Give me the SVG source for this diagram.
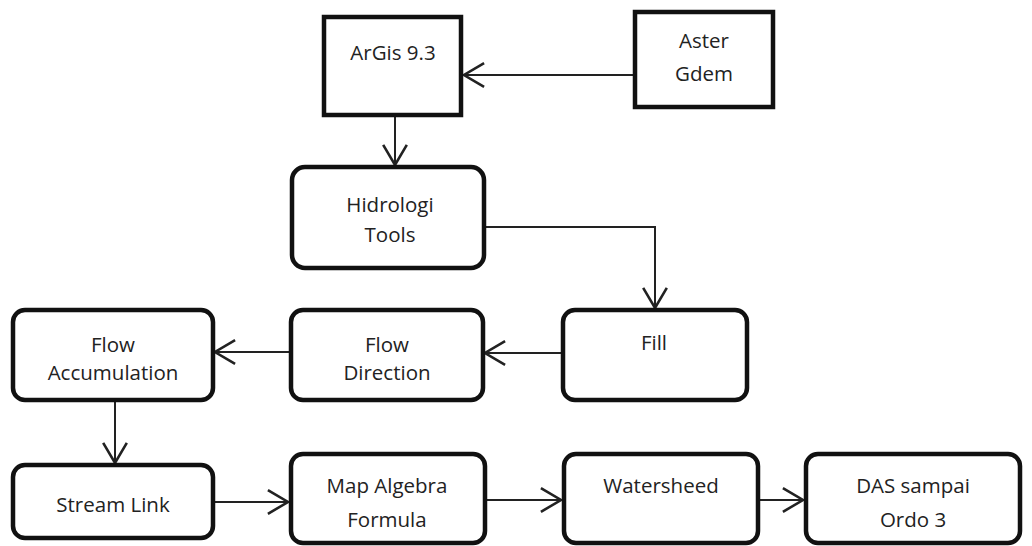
<svg xmlns="http://www.w3.org/2000/svg" width="1032" height="546" viewBox="0 0 1032 546">
<style>
.box{fill:none;stroke:#111;stroke-width:4.5}
.t{font-family:"Open Sans","Liberation Sans",sans-serif;font-size:20.5px;fill:#222;text-anchor:middle}
.c{fill:none;stroke:#222;stroke-width:2}
</style>
<defs>
<marker id="ah" markerUnits="userSpaceOnUse" markerWidth="26" markerHeight="26" refX="18" refY="11" orient="auto" viewBox="0 0 22 22">
<path d="M1,1 L18,11 L1,21" fill="none" stroke="#222" stroke-width="2.2"/>
</marker>
</defs>
<rect width="1032" height="546" fill="#fff"/>
<g id="connectors">
<path class="c" d="M634,75 H464" marker-end="url(#ah)"/>
<path class="c" d="M395,117 V165" marker-end="url(#ah)"/>
<path class="c" d="M485,227 H655 V308" marker-end="url(#ah)"/>
<path class="c" d="M562,353 H485" marker-end="url(#ah)"/>
<path class="c" d="M289,352 H215" marker-end="url(#ah)"/>
<path class="c" d="M115,401 V463" marker-end="url(#ah)"/>
<path class="c" d="M214,502 H288" marker-end="url(#ah)"/>
<path class="c" d="M486,500 H561" marker-end="url(#ah)"/>
<path class="c" d="M759,500 H803" marker-end="url(#ah)"/>
</g>
<g id="argis"><rect class="box" x="324" y="17" width="137" height="98"/><text class="t" x="393" y="60">ArGis 9.3</text></g>
<g id="aster"><rect class="box" x="635" y="12" width="138" height="95"/><text class="t" x="704" y="48">Aster</text><text class="t" x="704" y="81">Gdem</text></g>
<g id="hidrologi"><rect class="box" x="292" y="167" width="192" height="101" rx="13"/><text class="t" x="390" y="212">Hidrologi</text><text class="t" x="390" y="242">Tools</text></g>
<g id="fill"><rect class="box" x="563" y="310" width="184" height="90" rx="12"/><text class="t" x="654" y="350">Fill</text></g>
<g id="flowdir"><rect class="box" x="291" y="310" width="192" height="90" rx="12"/><text class="t" x="387" y="352">Flow</text><text class="t" x="387" y="380">Direction</text></g>
<g id="flowacc"><rect class="box" x="13" y="310" width="200" height="90" rx="12"/><text class="t" x="113" y="352">Flow</text><text class="t" x="113" y="380">Accumulation</text></g>
<g id="streamlink"><rect class="box" x="13" y="465" width="200" height="73" rx="12"/><text class="t" x="113" y="512">Stream Link</text></g>
<g id="mapalgebra"><rect class="box" x="291" y="454" width="194" height="89" rx="12"/><text class="t" x="387" y="493">Map Algebra</text><text class="t" x="387" y="527">Formula</text></g>
<g id="watersheed"><rect class="box" x="564" y="454" width="194" height="89" rx="12"/><text class="t" x="661" y="493">Watersheed</text></g>
<g id="das"><rect class="box" x="806" y="454" width="214" height="89" rx="12"/><text class="t" x="913" y="493">DAS sampai</text><text class="t" x="913" y="527">Ordo 3</text></g>
</svg>
